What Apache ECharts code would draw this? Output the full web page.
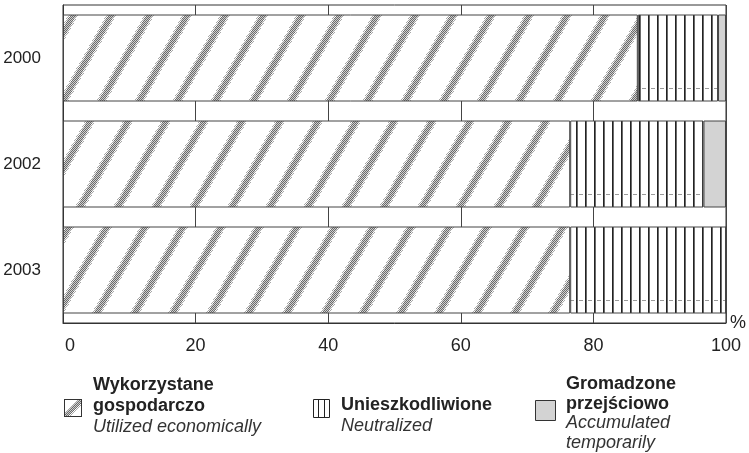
<!DOCTYPE html>
<html><head><meta charset="utf-8">
<script src="https://cdn.jsdelivr.net/npm/echarts@6/dist/echarts.min.js"></script>
<style>html,body{margin:0;padding:0;background:#fff}#c{width:749px;height:453px}</style>
</head><body><div id="c"></div>
<script>
const years = ['2000', '2002', '2003'];
const utilized = [86.7, 76.5, 76.5];
const neutralized = [12.1, 20.1, 23.5];
const accumulated = [1.2, 3.4, 0];
const xTicks = [0, 20, 40, 60, 80, 100];
const seriesNames = ['Wykorzystane gospodarczo', 'Unieszkodliwione', 'Gromadzone przejściowo'];
const legendBold = [['Wykorzystane', 'gospodarczo'], ['Unieszkodliwione'], ['Gromadzone', 'przejściowo']];
const legendItalic = [['Utilized economically'], ['Neutralized'], ['Accumulated', 'temporarily']];

const FONT = '"Liberation Sans", Arial, sans-serif';

function px(g, x, y, c) { g.fillStyle = c; g.fillRect(x, y, 1, 1); }

function stripePixel(g, x, y, u) {
  if (u >= 2 && u < 8) px(g, x, y, (x + y) % 2 === 0 ? '#6a6a6a' : '#cfcfcf');
  else if (u >= 0 && u < 10 && (x + y) % 2 === 0) px(g, x, y, '#a8a8a8');
}

function hatchCanvas() {
  const W = 38, H = 68;
  const c = document.createElement('canvas'); c.width = W; c.height = H;
  const g = c.getContext('2d');
  g.fillStyle = '#fff'; g.fillRect(0, 0, W, H);
  for (let y = 0; y < H; y++) for (let x = 0; x < W; x++) {
    const u = ((x + y * W / H) % W + W) % W;
    if (u < 10) stripePixel(g, x, y, u);
  }
  return c;
}
function vlineCanvas() {
  const W = 9, H = 106;
  const c = document.createElement('canvas'); c.width = W; c.height = H;
  const g = c.getContext('2d');
  g.fillStyle = '#fff'; g.fillRect(0, 0, W, H);
  for (let y = 0; y < H; y++) { px(g, 0, y, '#222'); px(g, 1, y, '#6a6a6a'); }
  for (let x = 3; x < 7; x++) px(g, x, 88, '#9a9a9a');
  return c;
}
function hatchIcon() {
  const S = 18;
  const c = document.createElement('canvas'); c.width = S; c.height = S;
  const g = c.getContext('2d');
  g.fillStyle = '#fff'; g.fillRect(0, 0, S, S);
  for (let y = 1; y < S - 1; y++) for (let x = 1; x < S - 1; x++) {
    const u = x + y - (S - 1) + 4;
    if (u >= 0 && u < 10) stripePixel(g, x, y, u);
  }
  g.strokeStyle = '#333'; g.lineWidth = 1; g.strokeRect(0.5, 0.5, S - 1, S - 1);
  return c;
}

const hatch = { image: hatchCanvas(), repeat: 'repeat' };
const vlines = { image: vlineCanvas(), repeat: 'repeat' };
const greyFill = '#d3d3d3';

const chart = echarts.init(document.getElementById('c'), null, { renderer: 'canvas' });

function legendText(x, yTop, bold, italic, step) {
  const els = [];
  let y = yTop;
  bold.forEach(t => { els.push({ type: 'text', x: x, y: y, style: { text: t, font: 'bold 18px ' + FONT, fill: '#222', verticalAlign: 'middle' } }); y += step; });
  italic.forEach(t => { els.push({ type: 'text', x: x, y: y, style: { text: t, font: 'italic 18px ' + FONT, fill: '#333', verticalAlign: 'middle' } }); y += step; });
  return els;
}

const graphics = [
  { type: 'image', x: 64, y: 399, style: { image: hatchIcon(), width: 18, height: 18 } },
  ...legendText(93, 385, legendBold[0], legendItalic[0], 21),
  { type: 'rect', shape: { x: 313.5, y: 399.5, width: 16, height: 18 }, style: { fill: '#fff', stroke: '#222', lineWidth: 1 } },
  { type: 'line', shape: { x1: 318.5, y1: 399.5, x2: 318.5, y2: 417.5 }, style: { stroke: '#222', lineWidth: 1 } },
  { type: 'line', shape: { x1: 324.5, y1: 399.5, x2: 324.5, y2: 417.5 }, style: { stroke: '#222', lineWidth: 1 } },
  ...legendText(341, 405, legendBold[1], legendItalic[1], 21),
  { type: 'rect', shape: { x: 535.5, y: 400.5, width: 20, height: 20 }, style: { fill: greyFill, stroke: '#333', lineWidth: 1 } },
  ...legendText(566, 384, legendBold[2], legendItalic[2], 19.7)
];

const barBase = { type: 'bar', stack: 'total', barWidth: 87, silent: true };

chart.setOption({
  animation: false,
  backgroundColor: '#fff',
  grid: { left: 63, right: 20, top: 5, bottom: 130, show: true, borderColor: '#333', borderWidth: 1, backgroundColor: 'transparent' },
  xAxis: {
    type: 'value', min: xTicks[0], max: xTicks[xTicks.length - 1], interval: 20,
    name: '%', nameLocation: 'end', nameGap: 4,
    nameTextStyle: { fontSize: 18, color: '#222', fontFamily: FONT, align: 'left', verticalAlign: 'middle', padding: [0, 0, 8, 0] },
    axisLine: { show: true, lineStyle: { color: '#333', width: 1 } },
    axisTick: { show: false },
    splitLine: { show: true, lineStyle: { color: '#444', width: 1 } },
    axisLabel: {
      fontSize: 18, color: '#222', fontFamily: FONT, margin: 14,
      formatter: v => v === 0 ? '{z|0}' : String(v),
      rich: { z: { fontSize: 18, color: '#222', fontFamily: FONT, padding: [0, 0, 0, 14] } }
    }
  },
  yAxis: {
    type: 'category', data: years, inverse: true,
    axisLine: { show: true, lineStyle: { color: '#333', width: 1 } },
    axisTick: { show: false },
    axisLabel: { fontSize: 17, color: '#222', fontFamily: FONT, margin: 22 }
  },
  series: [
    Object.assign({}, barBase, { name: seriesNames[0], data: utilized, itemStyle: { color: hatch, borderColor: '#444', borderWidth: 1 } }),
    Object.assign({}, barBase, { name: seriesNames[1], data: neutralized, itemStyle: { color: vlines, borderColor: '#444', borderWidth: 1 } }),
    Object.assign({}, barBase, { name: seriesNames[2], data: accumulated, itemStyle: { color: greyFill, borderColor: '#444', borderWidth: 1 } })
  ],
  graphic: graphics
});
</script>
</body></html>
